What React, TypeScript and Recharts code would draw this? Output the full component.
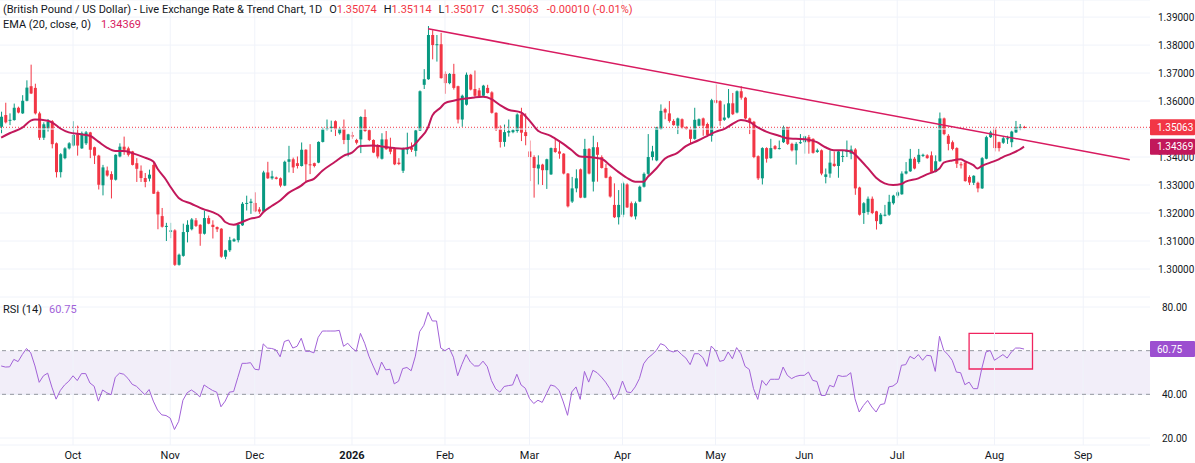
import React from "react";
import {
  ComposedChart,
  Bar,
  Line,
  XAxis,
  YAxis,
  CartesianGrid,
  ReferenceLine,
  ReferenceArea,
} from "recharts";

const GREEN = "#089981";
const RED = "#f23645";
const EMA_COLOR = "#c2185b";
const TREND_COLOR = "#d81b60";
const RSI_COLOR = "#a262d8";
const GRID = "#f0f3fa";
const TEXT = "#131722";
const FONT = "Roboto, 'Noto Sans', sans-serif";

// trading-day index of the first session of each month
const monthIdx = [17, 40, 60, 83, 105, 125, 147, 169, 190, 212, 235, 256];
const monthLabels = ["Oct", "Nov", "Dec", "2026", "Feb", "Mar", "Apr", "May", "Jun", "Jul", "Aug", "Sep"];
// 1.35 and 60 are hidden behind the last-value tags in the original
const priceTicks = [1.3, 1.31, 1.32, 1.33, 1.34, 1.36, 1.37, 1.38, 1.39];
const rsiTicks = [20, 40, 80];

// daily candles: open, high, low, close
const ohlc: number[][] = [
  [1.3508, 1.3562, 1.3485, 1.3544], [1.3550, 1.3594, 1.3520, 1.3524], [1.3530, 1.3556, 1.3514, 1.3533],
  [1.3532, 1.3591, 1.3530, 1.3576], [1.3576, 1.3580, 1.3556, 1.3559], [1.3556, 1.3621, 1.3554, 1.3601],
  [1.3601, 1.3674, 1.3599, 1.3648], [1.3653, 1.3730, 1.3625, 1.3627], [1.3647, 1.3662, 1.3552, 1.3556],
  [1.3556, 1.3562, 1.3461, 1.3469], [1.3469, 1.3524, 1.3461, 1.3517], [1.3502, 1.3536, 1.3491, 1.3526],
  [1.3528, 1.3532, 1.3431, 1.3446], [1.3449, 1.3452, 1.3327, 1.3346], [1.3346, 1.3414, 1.3327, 1.3410],
  [1.3396, 1.3435, 1.3392, 1.3431], [1.3431, 1.3453, 1.3427, 1.3449], [1.3441, 1.3528, 1.3438, 1.3479],
  [1.3481, 1.3512, 1.3405, 1.3441], [1.3431, 1.3491, 1.3429, 1.3485], [1.3449, 1.3493, 1.3443, 1.3488],
  [1.3488, 1.3490, 1.3396, 1.3426], [1.3435, 1.3437, 1.3375, 1.3405], [1.3405, 1.3408, 1.3284, 1.3301],
  [1.3299, 1.3372, 1.3263, 1.3363], [1.3352, 1.3366, 1.3330, 1.3334], [1.3339, 1.3349, 1.3252, 1.3319],
  [1.3319, 1.3410, 1.3316, 1.3408], [1.3402, 1.3449, 1.3399, 1.3437], [1.3437, 1.3473, 1.3408, 1.3426],
  [1.3431, 1.3437, 1.3402, 1.3408], [1.3420, 1.3422, 1.3370, 1.3372], [1.3378, 1.3396, 1.3311, 1.3358],
  [1.3351, 1.3370, 1.3311, 1.3325], [1.3325, 1.3343, 1.3292, 1.3311], [1.3323, 1.3355, 1.3313, 1.3337],
  [1.3372, 1.3382, 1.3268, 1.3269], [1.3275, 1.3280, 1.3142, 1.3195], [1.3189, 1.3218, 1.3148, 1.3151],
  [1.3152, 1.3165, 1.3100, 1.3154], [1.3133, 1.3165, 1.3110, 1.3138], [1.3138, 1.3142, 1.3011, 1.3015],
  [1.3015, 1.3055, 1.3012, 1.3051], [1.3047, 1.3162, 1.3044, 1.3132], [1.3132, 1.3174, 1.3095, 1.3158],
  [1.3142, 1.3182, 1.3138, 1.3177], [1.3174, 1.3182, 1.3150, 1.3154], [1.3158, 1.3160, 1.3083, 1.3126],
  [1.3126, 1.3209, 1.3123, 1.3182], [1.3182, 1.3191, 1.3160, 1.3162], [1.3158, 1.3174, 1.3109, 1.3150],
  [1.3150, 1.3152, 1.3132, 1.3142], [1.3144, 1.3146, 1.3040, 1.3044], [1.3044, 1.3069, 1.3035, 1.3067],
  [1.3067, 1.3115, 1.3061, 1.3103], [1.3099, 1.3110, 1.3097, 1.3106], [1.3103, 1.3165, 1.3095, 1.3158],
  [1.3156, 1.3239, 1.3154, 1.3233], [1.3234, 1.3262, 1.3209, 1.3236], [1.3236, 1.3251, 1.3197, 1.3241],
  [1.3236, 1.3274, 1.3203, 1.3206], [1.3213, 1.3221, 1.3197, 1.3205], [1.3205, 1.3351, 1.3203, 1.3345],
  [1.3345, 1.3383, 1.3322, 1.3324], [1.3324, 1.3351, 1.3319, 1.3331], [1.3327, 1.3330, 1.3320, 1.3322],
  [1.3324, 1.3327, 1.3292, 1.3298], [1.3298, 1.3387, 1.3296, 1.3383], [1.3383, 1.3440, 1.3345, 1.3392],
  [1.3392, 1.3398, 1.3343, 1.3363], [1.3378, 1.3402, 1.3359, 1.3368], [1.3368, 1.3452, 1.3366, 1.3426],
  [1.3426, 1.3428, 1.3310, 1.3374], [1.3374, 1.3446, 1.3339, 1.3372], [1.3378, 1.3380, 1.3363, 1.3368],
  [1.3380, 1.3456, 1.3378, 1.3454], [1.3454, 1.3505, 1.3452, 1.3499], [1.3499, 1.3534, 1.3495, 1.3503],
  [1.3503, 1.3530, 1.3490, 1.3508], [1.3528, 1.3531, 1.3475, 1.3499], [1.3485, 1.3505, 1.3480, 1.3501],
  [1.3501, 1.3534, 1.3446, 1.3461], [1.3461, 1.3483, 1.3402, 1.3481], [1.3478, 1.3490, 1.3465, 1.3473],
  [1.3461, 1.3465, 1.3445, 1.3451], [1.3463, 1.3546, 1.3414, 1.3543], [1.3543, 1.3570, 1.3490, 1.3493],
  [1.3496, 1.3499, 1.3457, 1.3461], [1.3461, 1.3463, 1.3414, 1.3416], [1.3442, 1.3446, 1.3395, 1.3402],
  [1.3394, 1.3485, 1.3391, 1.3463], [1.3463, 1.3493, 1.3426, 1.3428], [1.3434, 1.3469, 1.3410, 1.3419],
  [1.3430, 1.3434, 1.3371, 1.3374], [1.3380, 1.3396, 1.3371, 1.3375], [1.3351, 1.3434, 1.3343, 1.3430],
  [1.3428, 1.3487, 1.3410, 1.3430], [1.3434, 1.3452, 1.3418, 1.3426], [1.3422, 1.3497, 1.3402, 1.3495],
  [1.3495, 1.3638, 1.3493, 1.3635], [1.3658, 1.3714, 1.3643, 1.3678], [1.3678, 1.3868, 1.3676, 1.3836],
  [1.3836, 1.3853, 1.3749, 1.3800], [1.3800, 1.3836, 1.3741, 1.3803], [1.3803, 1.3844, 1.3680, 1.3682],
  [1.3697, 1.3706, 1.3626, 1.3664], [1.3664, 1.3700, 1.3660, 1.3697], [1.3697, 1.3733, 1.3641, 1.3647],
  [1.3653, 1.3655, 1.3520, 1.3534], [1.3534, 1.3623, 1.3508, 1.3619], [1.3587, 1.3702, 1.3584, 1.3694],
  [1.3694, 1.3697, 1.3638, 1.3641], [1.3643, 1.3709, 1.3615, 1.3619], [1.3638, 1.3647, 1.3613, 1.3617],
  [1.3619, 1.3658, 1.3615, 1.3655], [1.3647, 1.3658, 1.3627, 1.3629], [1.3631, 1.3635, 1.3555, 1.3558],
  [1.3558, 1.3560, 1.3493, 1.3499], [1.3499, 1.3513, 1.3434, 1.3454], [1.3454, 1.3516, 1.3437, 1.3489],
  [1.3487, 1.3534, 1.3473, 1.3493], [1.3489, 1.3500, 1.3485, 1.3496], [1.3493, 1.3556, 1.3487, 1.3552],
  [1.3552, 1.3576, 1.3457, 1.3487], [1.3489, 1.3556, 1.3442, 1.3475], [1.3420, 1.3459, 1.3314, 1.3400],
  [1.3400, 1.3406, 1.3255, 1.3361], [1.3359, 1.3406, 1.3302, 1.3373], [1.3373, 1.3376, 1.3300, 1.3353],
  [1.3353, 1.3394, 1.3286, 1.3392], [1.3338, 1.3434, 1.3336, 1.3432], [1.3432, 1.3465, 1.3415, 1.3418],
  [1.3420, 1.3459, 1.3394, 1.3412], [1.3412, 1.3414, 1.3338, 1.3341], [1.3341, 1.3343, 1.3220, 1.3224],
  [1.3241, 1.3329, 1.3236, 1.3288], [1.3288, 1.3356, 1.3274, 1.3324], [1.3356, 1.3359, 1.3253, 1.3255],
  [1.3255, 1.3465, 1.3253, 1.3429], [1.3429, 1.3432, 1.3338, 1.3341], [1.3312, 1.3476, 1.3277, 1.3435],
  [1.3435, 1.3453, 1.3312, 1.3408], [1.3400, 1.3406, 1.3359, 1.3361], [1.3361, 1.3376, 1.3324, 1.3326],
  [1.3329, 1.3333, 1.3255, 1.3259], [1.3229, 1.3306, 1.3182, 1.3185], [1.3185, 1.3282, 1.3159, 1.3229],
  [1.3194, 1.3312, 1.3185, 1.3306], [1.3302, 1.3306, 1.3218, 1.3220], [1.3235, 1.3241, 1.3185, 1.3188],
  [1.3188, 1.3241, 1.3177, 1.3235], [1.3241, 1.3298, 1.3239, 1.3294], [1.3294, 1.3345, 1.3291, 1.3340],
  [1.3340, 1.3482, 1.3330, 1.3400], [1.3400, 1.3440, 1.3388, 1.3420], [1.3388, 1.3508, 1.3385, 1.3506],
  [1.3500, 1.3588, 1.3497, 1.3565], [1.3571, 1.3576, 1.3535, 1.3559], [1.3556, 1.3600, 1.3523, 1.3529],
  [1.3529, 1.3535, 1.3512, 1.3514], [1.3512, 1.3541, 1.3482, 1.3538], [1.3535, 1.3538, 1.3500, 1.3506],
  [1.3506, 1.3510, 1.3497, 1.3500], [1.3500, 1.3502, 1.3447, 1.3465], [1.3465, 1.3576, 1.3462, 1.3533],
  [1.3512, 1.3538, 1.3510, 1.3535], [1.3538, 1.3541, 1.3476, 1.3512], [1.3518, 1.3523, 1.3474, 1.3479],
  [1.3476, 1.3608, 1.3455, 1.3603], [1.3603, 1.3659, 1.3591, 1.3594], [1.3600, 1.3603, 1.3512, 1.3529],
  [1.3533, 1.3588, 1.3529, 1.3541], [1.3541, 1.3643, 1.3538, 1.3592], [1.3592, 1.3629, 1.3550, 1.3553],
  [1.3559, 1.3638, 1.3556, 1.3635], [1.3635, 1.3653, 1.3605, 1.3612], [1.3612, 1.3615, 1.3535, 1.3538],
  [1.3538, 1.3541, 1.3482, 1.3523], [1.3526, 1.3529, 1.3396, 1.3400], [1.3403, 1.3406, 1.3318, 1.3324],
  [1.3324, 1.3435, 1.3302, 1.3432], [1.3432, 1.3435, 1.3380, 1.3394], [1.3396, 1.3465, 1.3394, 1.3432],
  [1.3439, 1.3443, 1.3426, 1.3429], [1.3430, 1.3459, 1.3427, 1.3432], [1.3453, 1.3512, 1.3450, 1.3506],
  [1.3506, 1.3508, 1.3443, 1.3447], [1.3447, 1.3451, 1.3420, 1.3424], [1.3424, 1.3453, 1.3373, 1.3447],
  [1.3452, 1.3482, 1.3447, 1.3453], [1.3453, 1.3476, 1.3412, 1.3474], [1.3471, 1.3479, 1.3412, 1.3453],
  [1.3465, 1.3467, 1.3412, 1.3415], [1.3418, 1.3430, 1.3415, 1.3424], [1.3424, 1.3427, 1.3335, 1.3341],
  [1.3329, 1.3359, 1.3306, 1.3338], [1.3341, 1.3424, 1.3326, 1.3380], [1.3376, 1.3420, 1.3365, 1.3368],
  [1.3368, 1.3424, 1.3326, 1.3420], [1.3402, 1.3424, 1.3382, 1.3404], [1.3418, 1.3459, 1.3400, 1.3424],
  [1.3412, 1.3441, 1.3392, 1.3427], [1.3427, 1.3432, 1.3265, 1.3288], [1.3291, 1.3294, 1.3191, 1.3194],
  [1.3200, 1.3239, 1.3161, 1.3235], [1.3204, 1.3259, 1.3194, 1.3251], [1.3251, 1.3259, 1.3196, 1.3200],
  [1.3206, 1.3208, 1.3141, 1.3171], [1.3161, 1.3200, 1.3159, 1.3194], [1.3192, 1.3229, 1.3188, 1.3194],
  [1.3194, 1.3265, 1.3190, 1.3240], [1.3235, 1.3265, 1.3230, 1.3262], [1.3262, 1.3280, 1.3255, 1.3274],
  [1.3267, 1.3349, 1.3265, 1.3341], [1.3341, 1.3382, 1.3338, 1.3349], [1.3349, 1.3429, 1.3347, 1.3394],
  [1.3394, 1.3400, 1.3356, 1.3359], [1.3382, 1.3429, 1.3376, 1.3408], [1.3404, 1.3412, 1.3400, 1.3408],
  [1.3406, 1.3410, 1.3394, 1.3396], [1.3406, 1.3420, 1.3345, 1.3347], [1.3347, 1.3406, 1.3345, 1.3385],
  [1.3385, 1.3559, 1.3383, 1.3538], [1.3538, 1.3541, 1.3478, 1.3482], [1.3476, 1.3482, 1.3424, 1.3447],
  [1.3453, 1.3459, 1.3424, 1.3429], [1.3432, 1.3435, 1.3361, 1.3376], [1.3374, 1.3382, 1.3359, 1.3372],
  [1.3380, 1.3385, 1.3312, 1.3314], [1.3329, 1.3335, 1.3300, 1.3309], [1.3308, 1.3335, 1.3300, 1.3333],
  [1.3308, 1.3312, 1.3274, 1.3288], [1.3288, 1.3400, 1.3286, 1.3396], [1.3394, 1.3476, 1.3392, 1.3471],
  [1.3471, 1.3494, 1.3468, 1.3488], [1.3502, 1.3506, 1.3420, 1.3432], [1.3453, 1.3455, 1.3420, 1.3432],
  [1.3451, 1.3474, 1.3447, 1.3467], [1.3465, 1.3476, 1.3447, 1.3467], [1.3453, 1.3494, 1.3435, 1.3491],
  [1.3488, 1.3529, 1.3486, 1.3506], [1.3506, 1.3518, 1.3496, 1.3508], [1.35074, 1.35114, 1.35017, 1.35063],
];

// EMA(20) at these candle indices
const emaIdx = [
  0, 2, 5, 7, 8, 11, 12, 14, 16, 19, 21, 23, 25, 27, 29, 31, 34, 36, 37, 39, 40, 42, 45, 48, 50, 52, 53, 55,
  57, 59, 61, 62, 64, 66, 68, 71, 72, 74, 76, 79, 81, 83, 85, 88, 90, 93, 95, 97, 99, 101, 102, 104, 105, 107,
  109, 112, 114, 116, 118, 120, 123, 125, 127, 130, 131, 133, 135, 137, 139, 142, 144, 146, 148, 150, 152,
  153, 155, 157, 160, 162, 165, 167, 169, 171, 173, 175, 177, 179, 181, 184, 186, 188, 191, 193, 195, 197,
  199, 201, 203, 205, 207, 209, 211, 213, 214, 217, 219, 221, 222, 223, 225, 227, 228, 230, 231, 232, 234,
  236, 237, 239, 241, 242,
];
const emaVal = [
  1.3469, 1.3485, 1.3505, 1.3530, 1.3534, 1.3530, 1.3524, 1.3502, 1.3488, 1.3481, 1.3476, 1.3455, 1.3434,
  1.3422, 1.3422, 1.3414, 1.3398, 1.3384, 1.3358, 1.3319, 1.3295, 1.3254, 1.3233, 1.3213, 1.3203, 1.3186,
  1.3168, 1.3158, 1.3168, 1.3180, 1.3186, 1.3203, 1.3225, 1.3245, 1.3272, 1.3298, 1.3310, 1.3322, 1.3351,
  1.3383, 1.3404, 1.3416, 1.3439, 1.3441, 1.3438, 1.3432, 1.3430, 1.3435, 1.3465, 1.3506, 1.3548, 1.3577,
  1.3593, 1.3601, 1.3607, 1.3613, 1.3615, 1.3607, 1.3586, 1.3569, 1.3559, 1.3530, 1.3494, 1.3476, 1.3467,
  1.3447, 1.3424, 1.3402, 1.3400, 1.3394, 1.3371, 1.3347, 1.3326, 1.3312, 1.3312, 1.3329, 1.3359, 1.3394,
  1.3415, 1.3439, 1.3460, 1.3475, 1.3490, 1.3500, 1.3518, 1.3532, 1.3526, 1.3506, 1.3491, 1.3476, 1.3467,
  1.3465, 1.3462, 1.3453, 1.3435, 1.3424, 1.3424, 1.3420, 1.3394, 1.3361, 1.3326, 1.3306, 1.3300, 1.3304,
  1.3312, 1.3324, 1.3338, 1.3350, 1.3359, 1.3380, 1.3388, 1.3392, 1.3385, 1.3371, 1.3359, 1.3368, 1.3380,
  1.3392, 1.3400, 1.3412, 1.3427, 1.3437,
];

// RSI(14), one value per candle
const rsiVal = [
  53, 52.5, 52.6, 56, 55, 58.2, 61, 59, 53, 45.5, 48.5, 49.7, 43.3, 37.8, 41.8, 44.3, 46, 48.5, 46.3, 49.5,
  49.5, 45.2, 43.7, 36.9, 42, 40.7, 39.8, 47.8, 49.7, 49.2, 47.3, 44.6, 43.7, 41.8, 39.8, 42.2, 36.9, 32.8,
  30.6, 30.3, 29.1, 23.9, 27.6, 37.3, 40.7, 42, 40.7, 38.8, 44.3, 43, 41.8, 41, 34.3, 36.9, 41, 41.3, 47.8,
  54.2, 54.2, 54.5, 51.5, 51.2, 63.1, 61.2, 61, 60.4, 57.2, 64.2, 64.9, 61.2, 62, 65.7, 59.7, 59.7, 59, 66.1,
  69, 69, 69, 69, 69.3, 62, 63.4, 61.2, 59.7, 67.9, 63.4, 57.5, 53, 48.8, 54.8, 51.2, 51.5, 44.8, 46, 51.8,
  52.3, 50.8, 57.5, 68.7, 71.6, 77.6, 73.6, 73.6, 61.2, 60, 61.2, 57, 48.5, 53.7, 58.2, 54.8, 53, 53, 55.2,
  52.7, 46.3, 42.5, 41, 43.6, 44, 44.3, 49.2, 44.3, 42.8, 38.1, 35.8, 37.3, 36.3, 40.3, 44.3, 43.7,
  41.8, 36.5, 30.4, 41.1, 43.4, 37.7, 50.5, 45.6, 51, 49.9, 47.9, 45.6, 42.6, 37.7, 40.3, 46.1, 41.1, 40.8,
  43.4, 47.2, 54, 56.6, 58.2, 60.1, 63.2, 62.4, 60.1, 59.4, 60.1, 58.2, 56.6, 53.6, 58.6, 58.6, 56.9, 52.8,
  62.1, 60.1, 55.1, 55.6, 59.4, 56.3, 61.4, 58.6, 52.8, 51.4, 42.6, 37.7, 46.4, 44.1, 46.9, 46.9, 46.9, 52.5,
  48.7, 47.2, 48.2, 48.7, 48.7, 50.2, 46.4, 45.9, 39.5, 39.5, 44.1, 43.4, 48.7, 48.2, 48.4, 49.9, 38, 31.9,
  34.9, 37.2, 34.2, 31.9, 35.3, 35.7, 43.4, 43.8, 45.3, 53.3, 53.6, 57.4, 56.3, 58.2, 55.6, 57.9, 57.6, 50.5,
  66.6, 60.1, 58.2, 55.6, 50.2, 49.9, 44.4, 45.6, 42.6, 42.6, 51.8, 59.4, 60.1, 55.6, 56.9, 58.2, 56.6, 59.4,
  61.2, 61.2, 60.75,
];

// falling trendline drawn from the late-January high
const trendIdx = [101, 267];
const trendVal = [1.3858, 1.3390];

const lastClose = 1.35063;
const lastEma = 1.34369;
const lastRsi = 60.75;

const X_DOMAIN: [number, number] = [-0.275, 271.8];
const PRICE_DOMAIN: [number, number] = [1.29, 1.3961];
const RSI_DOMAIN: [number, number] = [16.8, 84.58];

const candles = ohlc.map((c, i) => ({ i, o: c[0], h: c[1], l: c[2], c: c[3], range: [c[2], c[1]] }));
const emaData = emaIdx.map((i, k) => ({ i, v: emaVal[k] }));
const trendData = trendIdx.map((i, k) => ({ i, v: trendVal[k] }));
const rsiData = rsiVal.map((v, i) => ({ i, v }));

function Candle(props: any) {
  const { x, y, width, height, payload } = props;
  if (!payload || x == null) return null;
  const top = Math.min(y, y + height);
  const h = Math.abs(height);
  const k = h / (payload.h - payload.l || 1e-9);
  const yo = top + (payload.h - payload.o) * k;
  const yc = top + (payload.h - payload.c) * k;
  const color = payload.c >= payload.o ? GREEN : RED;
  const cx = x + width / 2;
  return (
    <g>
      <line x1={cx} x2={cx} y1={top} y2={top + h} stroke={color} strokeWidth={1} />
      <rect x={cx - 1.5} y={Math.min(yo, yc)} width={3} height={Math.max(1, Math.abs(yo - yc))} fill={color} />
    </g>
  );
}

function PriceTag(props: any) {
  const { viewBox, bg, text } = props;
  if (!viewBox) return null;
  const x = viewBox.x + viewBox.width;
  const y = viewBox.y;
  return (
    <g>
      <rect x={x} y={y - 8} width={45} height={16} fill={bg} rx={1} />
      <text x={x + 7} y={y + 3.6} fill="#fff" fontSize={10} fontFamily={FONT}>
        {text}
      </text>
    </g>
  );
}

function MonthTick(props: any) {
  const { x, y, payload } = props;
  const label = monthLabels[monthIdx.indexOf(payload.value)];
  return (
    <text x={x} y={y + 14} textAnchor="middle" fontSize={11} fontFamily={FONT}
      fontWeight={label === "2026" ? 700 : 400} fill={TEXT}>
      {label}
    </text>
  );
}

const tagLayer: React.CSSProperties = { position: "absolute", left: 0, pointerEvents: "none" };

export default function App() {
  return (
    <div style={{ position: "relative", width: 1195, height: 463, background: "#fff", fontFamily: FONT, overflow: "hidden" }}>
      <style>{"body{margin:0}"}</style>

      <ComposedChart width={1195} height={297} data={candles} margin={{ top: 0, right: 0, bottom: 0, left: 0 }}>
        <CartesianGrid vertical={false} stroke={GRID} />
        <ReferenceLine y={1.35} stroke={GRID} />
        {monthIdx.map((m) => (
          <ReferenceLine key={m} x={m} stroke={GRID} />
        ))}
        <XAxis dataKey="i" type="number" domain={X_DOMAIN} ticks={monthIdx} hide allowDataOverflow />
        <YAxis
          orientation="right"
          width={45}
          domain={PRICE_DOMAIN}
          ticks={priceTicks}
          allowDataOverflow
          axisLine={false}
          tickLine={false}
          tickSize={0}
          tickMargin={8}
          tick={{ fill: TEXT, fontSize: 10, textAnchor: "start" }}
          tickFormatter={(v: number) => v.toFixed(5)}
        />
        <ReferenceLine y={lastClose} stroke={RED} strokeDasharray="1 2" />
        <Bar dataKey="range" barSize={3} shape={<Candle />} isAnimationActive={false} />
        <Line data={emaData} dataKey="v" type="monotone" stroke={EMA_COLOR} strokeWidth={2}
          dot={false} activeDot={false} isAnimationActive={false} />
        <Line data={trendData} dataKey="v" type="linear" stroke={TREND_COLOR} strokeWidth={1.5}
          dot={false} activeDot={false} isAnimationActive={false} />
      </ComposedChart>

      <ComposedChart width={1195} height={166} data={rsiData} margin={{ top: 0, right: 0, bottom: 0, left: 0 }}>
        <CartesianGrid vertical={false} stroke={GRID} />
        {monthIdx.map((m) => (
          <ReferenceLine key={m} x={m} stroke={GRID} />
        ))}
        <XAxis
          dataKey="i"
          type="number"
          domain={X_DOMAIN}
          ticks={monthIdx}
          allowDataOverflow
          height={18}
          axisLine={false}
          tickLine={false}
          tickSize={0}
          tickMargin={0}
          tick={<MonthTick />}
        />
        <YAxis
          orientation="right"
          width={45}
          domain={RSI_DOMAIN}
          ticks={rsiTicks}
          allowDataOverflow
          axisLine={false}
          tickLine={false}
          tickSize={0}
          tickMargin={12}
          tick={{ fill: TEXT, fontSize: 10, textAnchor: "start" }}
          tickFormatter={(v: number) => v.toFixed(2)}
        />
        <ReferenceArea y1={40} y2={60} fill="#7e57c2" fillOpacity={0.1} stroke="none" />
        <ReferenceLine y={60} stroke="#9598a1" strokeDasharray="4 4" />
        <ReferenceLine y={40} stroke="#9598a1" strokeDasharray="4 4" />
        <Line dataKey="v" type="linear" stroke={RSI_COLOR} strokeWidth={1} dot={false} activeDot={false} isAnimationActive={false} />
        <ReferenceArea x1={229} x2={244} y1={51.6} y2={67.9} fill="none" stroke="#f0245f" strokeWidth={1.3} />
      </ComposedChart>

      {/* price tags sit above the axis labels, on the same scales */}
      <div style={{ ...tagLayer, top: 0 }}>
        <ComposedChart width={1195} height={297} data={candles} margin={{ top: 0, right: 45, bottom: 0, left: 0 }}>
          <XAxis dataKey="i" type="number" domain={X_DOMAIN} hide allowDataOverflow />
          <YAxis domain={PRICE_DOMAIN} hide allowDataOverflow />
          <ReferenceLine y={lastClose} stroke="none" label={<PriceTag bg={RED} text={lastClose.toFixed(5)} />} />
          <ReferenceLine y={lastEma} stroke="none" label={<PriceTag bg={EMA_COLOR} text={lastEma.toFixed(5)} />} />
        </ComposedChart>
      </div>
      <div style={{ ...tagLayer, top: 297 }}>
        <ComposedChart width={1195} height={166} data={rsiData} margin={{ top: 0, right: 45, bottom: 18, left: 0 }}>
          <XAxis dataKey="i" type="number" domain={X_DOMAIN} hide allowDataOverflow />
          <YAxis domain={RSI_DOMAIN} hide allowDataOverflow />
          <ReferenceLine y={lastRsi} stroke="none" label={<PriceTag bg="#9c4fd0" text={lastRsi.toFixed(2)} />} />
        </ComposedChart>
      </div>

      <div style={{ position: "absolute", left: 3, top: 3, fontSize: 11, lineHeight: "14px", color: TEXT, whiteSpace: "nowrap" }}>
        <span>(British Pound / US Dollar) - Live Exchange Rate &amp; Trend Chart, 1D</span>
        <span style={{ marginLeft: 7 }}>O<span style={{ color: RED }}>1.35074</span></span>
        <span style={{ marginLeft: 7 }}>H<span style={{ color: RED }}>1.35114</span></span>
        <span style={{ marginLeft: 7 }}>L<span style={{ color: RED }}>1.35017</span></span>
        <span style={{ marginLeft: 7 }}>C<span style={{ color: RED }}>1.35063</span></span>
        <span style={{ marginLeft: 8, color: RED }}>-0.00010 (-0.01%)</span>
      </div>
      <div style={{ position: "absolute", left: 3, top: 18, fontSize: 11, lineHeight: "14px", color: TEXT, whiteSpace: "nowrap" }}>
        EMA (20, close, 0)<span style={{ marginLeft: 10, color: "#d81b60" }}>1.34369</span>
      </div>
      <div style={{ position: "absolute", left: 3, top: 303, fontSize: 11, lineHeight: "14px", color: TEXT, whiteSpace: "nowrap" }}>
        RSI (14)<span style={{ marginLeft: 7, color: RSI_COLOR }}>60.75</span>
      </div>
    </div>
  );
}
